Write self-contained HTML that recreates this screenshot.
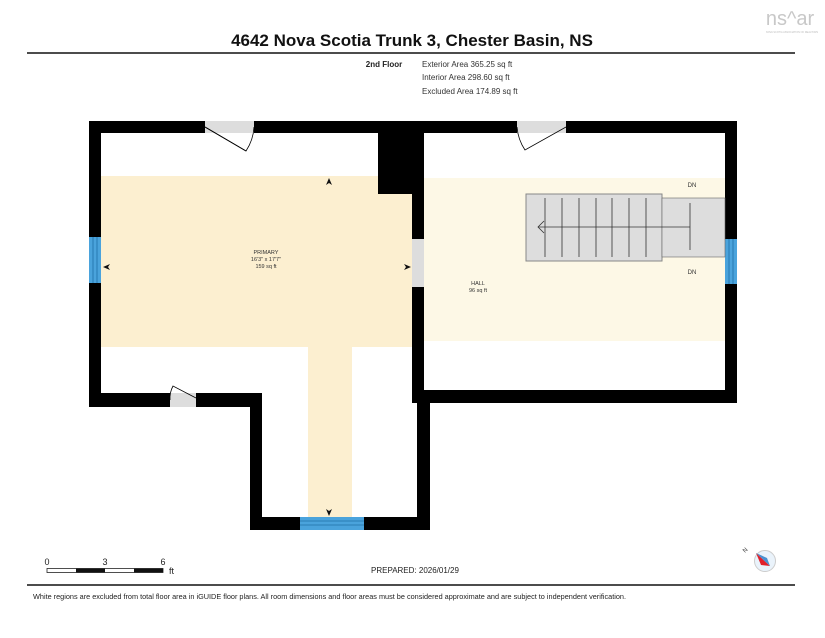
<!DOCTYPE html>
<html><head><meta charset="utf-8"><style>
html,body{margin:0;padding:0;background:#fff}
svg{display:block}
text{font-family:"Liberation Sans",Arial,sans-serif}
</style></head><body>
<svg width="825" height="638" viewBox="0 0 825 638" xmlns="http://www.w3.org/2000/svg">
<text x="412" y="46" font-size="17" font-weight="bold" text-anchor="middle" fill="#111">4642 Nova Scotia Trunk 3, Chester Basin, NS</text>
<line x1="27" y1="53" x2="795" y2="53" stroke="#111" stroke-width="1.5"/>
<text x="384" y="67" font-size="8" font-weight="bold" text-anchor="middle" fill="#222">2nd Floor</text>
<text x="422" y="67" font-size="8" fill="#333">Exterior Area 365.25 sq ft</text>
<text x="422" y="80" font-size="8" fill="#333">Interior Area 298.60 sq ft</text>
<text x="422" y="94" font-size="8" fill="#333">Excluded Area 174.89 sq ft</text>
<text x="790" y="25" font-size="20" fill="#c8c8c8" text-anchor="middle">ns^ar</text>
<text x="792" y="33" font-size="2.5" fill="#bbb" text-anchor="middle">NOVA SCOTIA ASSOCIATION OF REALTORS</text>

<rect x="101" y="176" width="311" height="171" fill="#fcefd0"/>
<rect x="308" y="347" width="44" height="170" fill="#fcefd0"/>
<rect x="424" y="178" width="301" height="163" fill="#fdf8e6"/>

<g fill="#000">
<rect x="89" y="121" width="116" height="12"/>
<rect x="254" y="121" width="170" height="12"/>
<rect x="378" y="121" width="35" height="73"/>
<rect x="412" y="121" width="12" height="282"/>
<rect x="424" y="121" width="93" height="12"/>
<rect x="566" y="121" width="171" height="12"/>
<rect x="725" y="121" width="12" height="282"/>
<rect x="412" y="390" width="325" height="13"/>
<rect x="89" y="121" width="12" height="286"/>
<rect x="89" y="393" width="81" height="14"/>
<rect x="196" y="393" width="66" height="14"/>
<rect x="250" y="393" width="12" height="137"/>
<rect x="250" y="517" width="50" height="13"/>
<rect x="364" y="517" width="66" height="13"/>
<rect x="417" y="393" width="13" height="137"/>
</g>
<rect x="89" y="237" width="12" height="46" fill="#4aa3dc"/>
<g stroke="#1f6fa8" stroke-width="0.8"><line x1="93" y1="237" x2="93" y2="283"/><line x1="97" y1="237" x2="97" y2="283"/></g>
<rect x="725" y="239" width="12" height="45" fill="#4aa3dc"/>
<g stroke="#1f6fa8" stroke-width="0.8"><line x1="729" y1="239" x2="729" y2="284"/><line x1="733" y1="239" x2="733" y2="284"/></g>
<rect x="300" y="517" width="64" height="13" fill="#4aa3dc"/>
<g stroke="#1f6fa8" stroke-width="0.8"><line x1="300" y1="521" x2="364" y2="521"/><line x1="300" y1="525" x2="364" y2="525"/></g>
<rect x="412" y="239" width="12" height="48" fill="#ddd"/>
<rect x="205" y="121" width="49" height="12" fill="#ddd"/>
<path d="M205 127 L246 151 A48 48 0 0 0 254 127" fill="none" stroke="#000" stroke-width="0.8"/>
<path d="M205 127 L246 151" stroke="#000" stroke-width="1"/>
<rect x="517" y="121" width="49" height="12" fill="#ddd"/>
<path d="M566 127 L525 150 A48 48 0 0 1 517 127" fill="none" stroke="#000" stroke-width="0.8"/>
<rect x="170" y="393" width="26" height="14" fill="#ddd"/>
<path d="M196 398 L173 386 A26 26 0 0 0 170 400" fill="none" stroke="#000" stroke-width="0.8"/>

<rect x="526" y="194" width="136" height="67" fill="#ddd" stroke="#888" stroke-width="1"/>
<rect x="662" y="198" width="63" height="59" fill="#ddd" stroke="#666" stroke-width="0.6"/>
<g stroke="#333" stroke-width="0.8">
<line x1="545" y1="198" x2="545" y2="257"/><line x1="562" y1="198" x2="562" y2="257"/>
<line x1="579" y1="198" x2="579" y2="257"/><line x1="596" y1="198" x2="596" y2="257"/>
<line x1="612" y1="198" x2="612" y2="257"/><line x1="629" y1="198" x2="629" y2="257"/>
<line x1="646" y1="198" x2="646" y2="257"/>
<line x1="538" y1="227" x2="690" y2="227"/><line x1="690" y1="203" x2="690" y2="250"/>
<polyline points="544,221 538,227 544,233" fill="none"/>
</g>
<text x="692" y="187" font-size="6" fill="#333" text-anchor="middle">DN</text>
<text x="692" y="274" font-size="6" fill="#333" text-anchor="middle">DN</text>

<text x="266" y="254" font-size="5.5" fill="#333" text-anchor="middle">PRIMARY</text>
<text x="266" y="261" font-size="5.5" fill="#333" text-anchor="middle">16'3" x 17'7"</text>
<text x="266" y="268" font-size="5.5" fill="#333" text-anchor="middle">159 sq ft</text>
<text x="478" y="285" font-size="5.5" fill="#333" text-anchor="middle">HALL</text>
<text x="478" y="292" font-size="5.5" fill="#333" text-anchor="middle">96 sq ft</text>
<g fill="#111">
<polygon points="329,178 326,185 329,183 332,185"/>
<polygon points="103,267 110,264 108,267 110,270"/>
<polygon points="411,267 404,264 406,267 404,270"/>
<polygon points="329,516 326,509 329,511 332,509"/>
</g>

<text x="47" y="565" font-size="9" fill="#222" text-anchor="middle">0</text>
<text x="105" y="565" font-size="9" fill="#222" text-anchor="middle">3</text>
<text x="163" y="565" font-size="9" fill="#222" text-anchor="middle">6</text>
<text x="169" y="574" font-size="9" fill="#222">ft</text>
<rect x="47" y="568.5" width="116" height="4" fill="#fff" stroke="#222" stroke-width="0.8"/>
<rect x="76" y="568.5" width="29" height="4" fill="#111"/>
<rect x="134" y="568.5" width="29" height="4" fill="#111"/>
<text x="371" y="573" font-size="8" fill="#222">PREPARED: 2026/01/29</text>
<circle cx="765" cy="561" r="10.5" fill="#eaf3fb" stroke="#ccc" stroke-width="1"/>
<polygon points="756,553 770,566 761,565" fill="#e0202a"/>
<polygon points="756,553 770,566 767,558" fill="#4a90d0"/>
<text x="745" y="553" font-size="6" fill="#333" transform="rotate(-45 745 553)">N</text>
<line x1="27" y1="585" x2="795" y2="585" stroke="#111" stroke-width="1.5"/>
<text x="33" y="599" font-size="7.5" fill="#222" textLength="593" lengthAdjust="spacingAndGlyphs">White regions are excluded from total floor area in iGUIDE floor plans. All room dimensions and floor areas must be considered approximate and are subject to independent verification.</text>
</svg>
</body></html>
